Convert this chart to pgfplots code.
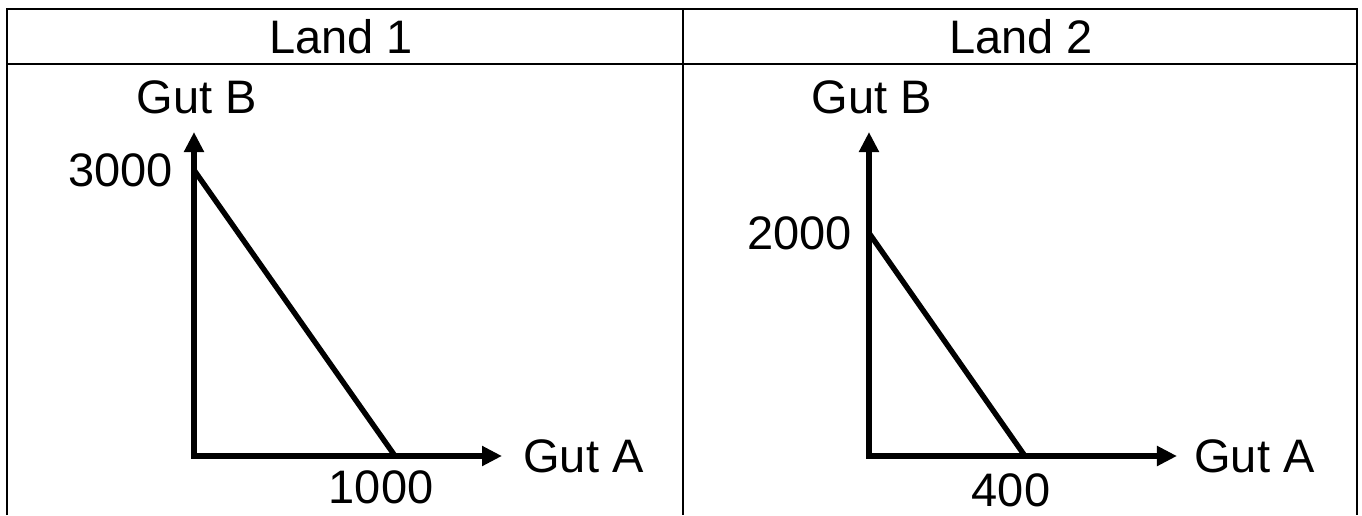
\documentclass[border=0pt]{standalone}
\usepackage{fontspec}
\setmainfont{Liberation Sans}
\usepackage{pgfplots}
\pgfplotsset{compat=1.18}
\usetikzlibrary{arrows.meta}

\newcommand{\bigfont}{\fontsize{23.5}{28}\selectfont}

\pgfplotsset{
  ppf/.style={
    scale only axis,
    width=154pt, height=162pt,
    xmin=0, ymin=0,
    clip=false,
    axis lines=left,
    axis line style={line width=2.6pt, line cap=rect,
      -{Triangle[length=10pt,width=9.5pt]}},
    major tick length=0pt,
    tick style={draw=none},
    tick label style={font=\bigfont, inner sep=0pt},
    label style={font=\bigfont, inner sep=0pt},
    yticklabel style={anchor=east},
    xticklabel style={anchor=north},
  }
}

\begin{document}
\begin{tikzpicture}
\useasboundingbox (0,0) rectangle (681pt,-257.5pt);

% table frame, open at the bottom
\draw[line width=1.4pt] (3.5pt,-257.5pt) -- (3.5pt,-4.5pt) -- (678.5pt,-4.5pt) -- (678.5pt,-257.5pt);
\draw[line width=1.4pt] (3.5pt,-32pt) -- (678.5pt,-32pt);
\draw[line width=1.4pt] (341.5pt,-4.5pt) -- (341.5pt,-257.5pt);

\node[font=\bigfont, anchor=base, inner sep=0pt] at (170.5pt,-26.5pt) {Land 1};
\node[font=\bigfont, anchor=base, inner sep=0pt] at (510.5pt,-26.5pt) {Land 2};

% Land 1
\begin{axis}[ppf,
  at={(97pt,-228pt)}, anchor=south west,
  xmax=1532, ymax=3399,
  xtick={1000}, xticklabels={1000},
  ytick={3000}, yticklabels={3000},
  xticklabel style={yshift=-7pt, xshift=-7pt},
  yticklabel style={xshift=-10.5pt},
  xlabel={Gut A},
  xlabel style={at={(axis description cs:1,0)}, anchor=west, xshift=10.5pt},
  ylabel={Gut B},
  ylabel style={at={(axis description cs:0,1)}, rotate=-90, anchor=base, yshift=9.5pt, xshift=1.5pt},
]
\addplot[black, line width=2.7pt] coordinates {(0,3000) (1000,0)};
\end{axis}

% Land 2
\begin{axis}[ppf,
  at={(434.5pt,-228pt)}, anchor=south west,
  xmax=790, ymax=2906,
  xtick={400}, xticklabels={400},
  ytick={2000}, yticklabels={2000},
  xticklabel style={yshift=-8.5pt, xshift=-7pt},
  yticklabel style={xshift=-8.5pt},
  xlabel={Gut A},
  xlabel style={at={(axis description cs:1,0)}, anchor=west, xshift=8.5pt},
  ylabel={Gut B},
  ylabel style={at={(axis description cs:0,1)}, rotate=-90, anchor=base, yshift=9.5pt, xshift=1.5pt},
]
\addplot[black, line width=2.7pt] coordinates {(0,2000) (400,0)};
\end{axis}
\end{tikzpicture}
\end{document}
